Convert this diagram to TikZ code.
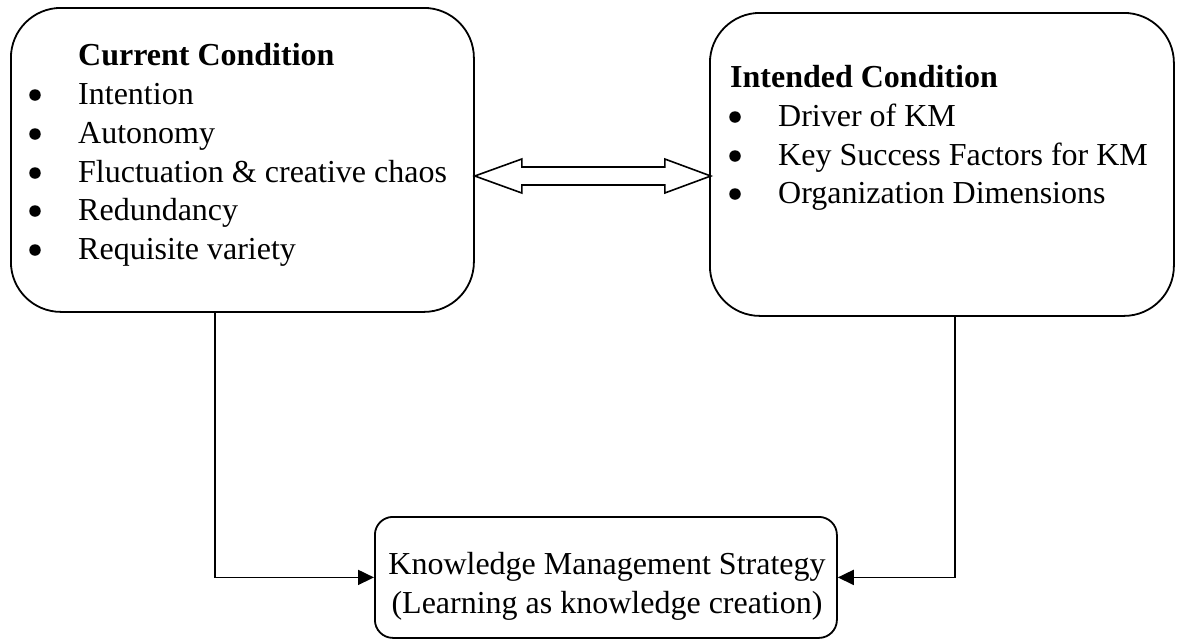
\documentclass[tikz,border=0pt]{standalone}
\usepackage{fontspec}
\setmainfont{Liberation Serif}
\usetikzlibrary{arrows.meta}
\tikzset{
  box/.style={draw, line width=1.8pt, rounded corners=#1, inner sep=0pt, anchor=north west},
  box/.default=50pt,
  txt/.style={inner sep=0pt, anchor=base west, font=\fontsize{32}{39}\selectfont},
  hd/.style={txt, font=\fontsize{32}{39}\selectfont\bfseries},
  bul/.style={circle, fill, inner sep=0pt, minimum size=11.5pt, yshift=9pt},
  ctxt/.style={inner sep=0pt, anchor=base, font=\fontsize{32}{39}\selectfont},
  conn/.style={line width=1.8pt, -{Triangle[length=16pt,width=15pt]}},
  dbl/.style={draw, line width=1.6pt, line join=miter}
}
\begin{document}
\begin{tikzpicture}[x=1pt,y=-1pt]
\useasboundingbox (0,0) rectangle (1179,638);
% boxes
\node[box, minimum width=463pt, minimum height=304pt] (cur) at (10,7) {};
\node[box, minimum width=464pt, minimum height=303pt] (int) at (709,12) {};
\node[box=18pt, minimum width=462pt, minimum height=121pt] (kms) at (374,516) {};
% current condition text
\node[hd] (curh) at (78,65) {Current Condition};
\node[bul] (cb1) at (35,104) {};
\node[bul] (cb2) at (35,143) {};
\node[bul] (cb3) at (35,182) {};
\node[bul] (cb4) at (35,220) {};
\node[bul] (cb5) at (35,259) {};
\node[txt] (ct1) at (78,104) {Intention};
\node[txt] (ct2) at (78,143) {Autonomy};
\node[txt] (ct3) at (78,182) {Fluctuation \& creative chaos};
\node[txt] (ct4) at (78,220) {Redundancy};
\node[txt] (ct5) at (78,259) {Requisite variety};
% intended condition text
\node[hd] (inth) at (730,87) {Intended Condition};
\node[bul] (ib1) at (735,126) {};
\node[bul] (ib2) at (735,165) {};
\node[bul] (ib3) at (735,203) {};
\node[txt] (it1) at (778,126) {Driver of KM};
\node[txt] (it2) at (778,165) {Key Success Factors for KM};
\node[txt] (it3) at (778,203) {Organization Dimensions};
% bottom text
\node[ctxt] (k1) at (607,574) {Knowledge Management Strategy};
\node[ctxt] (k2) at (607,613) {(Learning as knowledge creation)};
% double arrow
\coordinate (dl) at (cur.east |- 0,176);
\path[dbl] (dl) -- ++(47,-17) -- ++(0,8) -- ++(143,0) -- ++(0,-8) -- ++(46,17)
  -- ++(-46,17) -- ++(0,-8) -- ++(-143,0) -- ++(0,8) -- cycle;
% connectors
\draw[conn] ([xshift=-27.5pt]cur.south) |- (kms.west);
\draw[conn] ([xshift=13pt]int.south) |- (kms.east);
\end{tikzpicture}
\end{document}
